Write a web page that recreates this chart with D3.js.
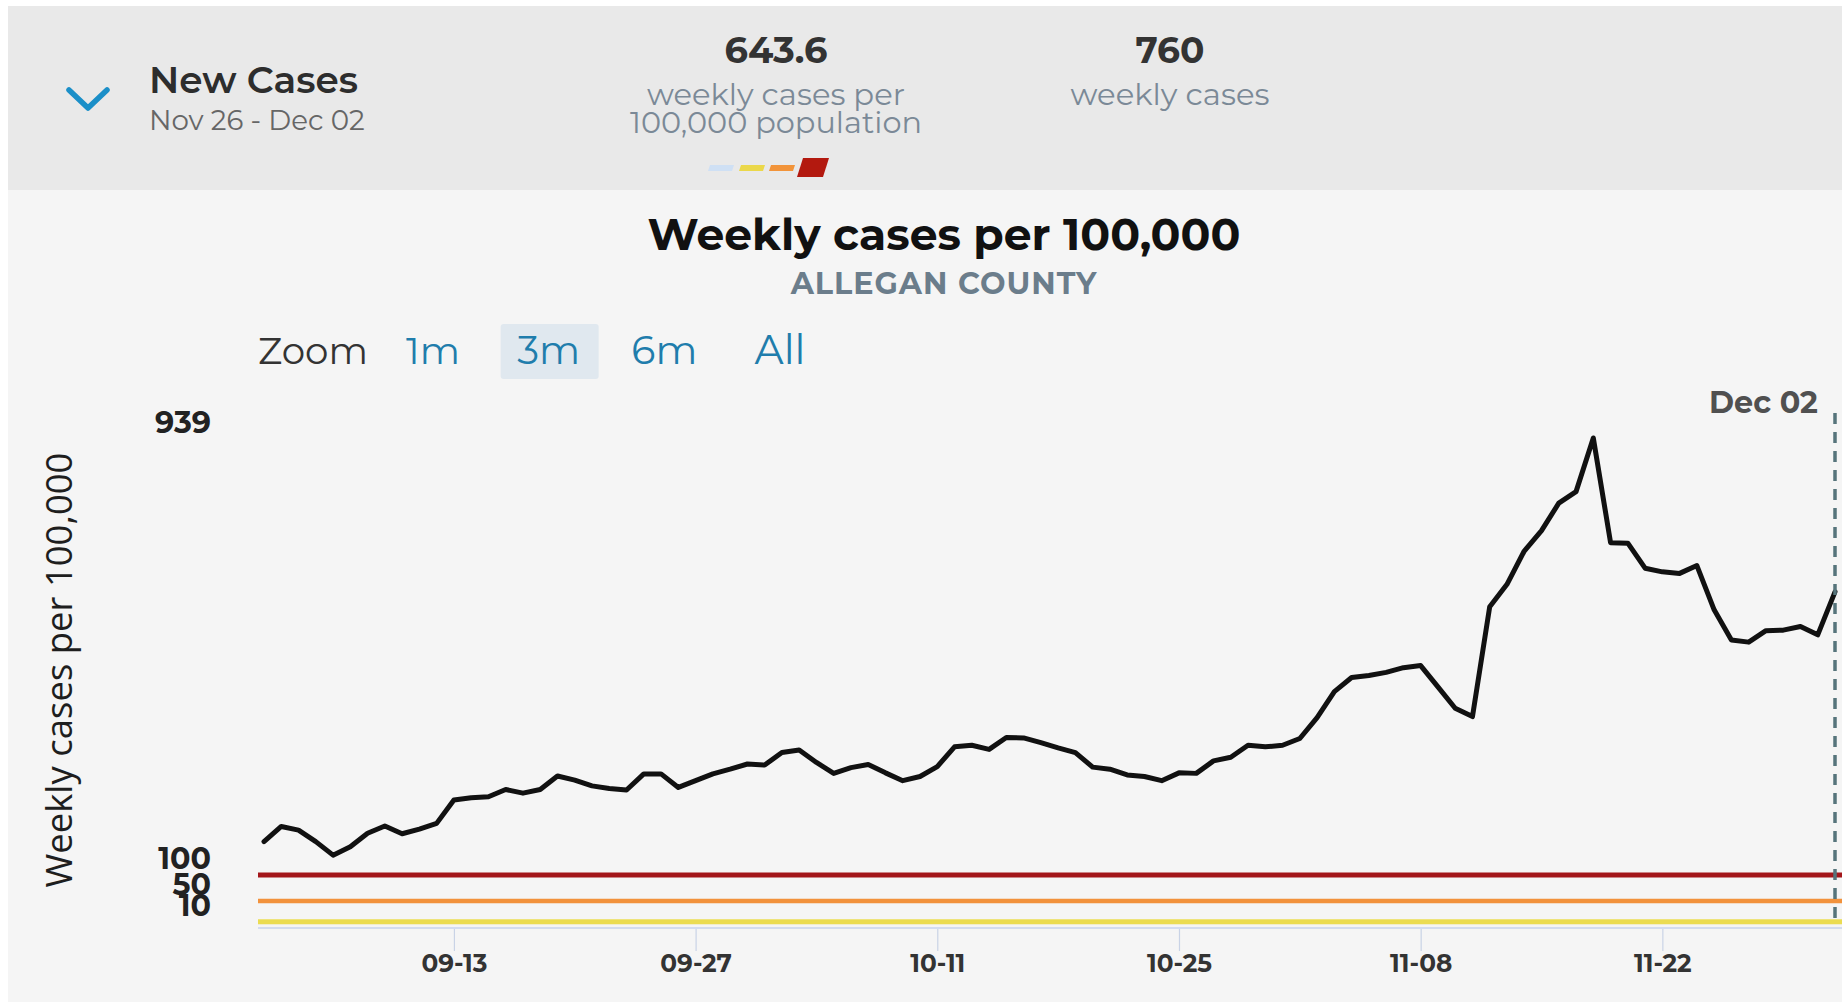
<!DOCTYPE html>
<html><head><meta charset="utf-8">
<script src="https://cdn.jsdelivr.net/npm/d3@7"></script>
<style>html,body{margin:0;padding:0;background:#fff;overflow:hidden}svg{display:block}</style>
</head><body><svg id="chart" width="1842" height="1008"></svg>
<script>
// ---------------- data ----------------
const startDate = "2020-09-02";
const endDate = "2020-12-02";
const weeklyCasesPer100k = [
  164,193,186,164,138,154,180,194,179,188,
  199,244,248,250,264,257,264,290,282,271,
  266,263,294,294,268,281,294,303,313,311,
  335,340,316,295,306,312,296,281,289,308,
  346,349,341,364,363,354,344,335,307,303,
  292,289,281,296,295,319,326,349,346,349,
  362,402,452,479,483,489,498,502,461,420,
  404,615,658,722,761,814,836,939,738,737,
  689,682,679,694,609,551,547,569,570,577,
  561,643.6
];
const thresholdValues = [100, 50, 10];
const yTickValues = [939, 100, 50, 10];
const xTickDates = ["2020-09-13","2020-09-27","2020-10-11","2020-10-25","2020-11-08","2020-11-22"];
const zoomOptions = ["1m","3m","6m","All"];
const selectedZoom = "3m";
const summaryNumbers = ["643.6", "760"];
const summaryLabels = [["weekly cases per","100,000 population"],["weekly cases"]];
const headerTitle = "New Cases";
const headerRange = "Nov 26 - Dec 02";
const chartTitle = "Weekly cases per 100,000";
const chartSubtitle = "ALLEGAN COUNTY";
const yAxisTitle = "Weekly cases per 100,000";
const markerLabel = "Dec 02";

// ---------------- styles ----------------
const FONT = "Montserrat, 'DejaVu Sans', sans-serif";
const thresholdColors = {100:"#a3161a", 50:"#f2923c", 10:"#ebdc52"};
const legendColors = ["#cfe0f4","#ebd84a","#f2943a","#b3190f"];

const svg = d3.select("#chart");
const parse = d3.utcParse("%Y-%m-%d");
const t0 = parse(startDate), t1 = parse(endDate);
const series = weeklyCasesPer100k.map((v,i)=>({date:d3.utcDay.offset(t0,i), value:v}));

function fit(sel, w){
  const n = sel.node();
  const fs = parseFloat(sel.attr("font-size"));
  const l = n.getComputedTextLength();
  const nf = fs*w/l;
  sel.attr("font-size", nf);
  return nf;
}

// backgrounds
svg.append("rect").attr("x",0).attr("y",0).attr("width",1842).attr("height",1008).attr("fill","#ffffff");
svg.append("rect").attr("x",8).attr("y",190).attr("width",1834).attr("height",812).attr("fill","#f5f5f5");
svg.append("rect").attr("x",8).attr("y",6).attr("width",1834).attr("height",184).attr("fill","#e9e9e9");
svg.append("rect").attr("x",118).attr("y",1002).attr("width",1380).attr("height",6).attr("fill","#ffffff");

// ---------------- header ----------------
svg.append("path").attr("d","M69,90 L88,108 L107,90").attr("fill","none")
  .attr("stroke","#1b8fc8").attr("stroke-width",5.5).attr("stroke-linecap","round").attr("stroke-linejoin","round");
const ht = svg.append("text").attr("x",149).attr("y",93).attr("font-family",FONT).attr("font-weight",600)
  .attr("font-size",32).attr("fill","#2d2d2d").text(headerTitle);
fit(ht,209);
const hr = svg.append("text").attr("x",149).attr("y",130).attr("font-family",FONT)
  .attr("font-size",20).attr("fill","#666").text(headerRange);
fit(hr,216);

const statX = d3.scaleOrdinal().domain(summaryNumbers).range([776,1170]);
const numW = {"643.6":103,"760":69};
summaryNumbers.forEach((n,i)=>{
  const cx = statX(n);
  const t = svg.append("text").attr("x",cx).attr("y",63).attr("text-anchor","middle")
    .attr("font-family",FONT).attr("font-weight",700).attr("font-size",28).attr("fill","#333").text(n);
  fit(t,numW[n]);
  summaryLabels[i].forEach((lab,j)=>{
    const s = svg.append("text").attr("x",cx).attr("y",105+j*28).attr("text-anchor","middle")
      .attr("font-family",FONT).attr("font-size",24).attr("fill","#7b8997").text(lab);
    fit(s, lab==="weekly cases per"?258:(lab==="weekly cases"?199:292));
  });
});
// legend swatches
const swX = [708,739,769];
swX.forEach((x,i)=>{
  svg.append("path").attr("d",`M${x+2},165 L${x+26},165 L${x+24},171 L${x},171 Z`).attr("fill",legendColors[i]);
});
svg.append("path").attr("d","M803,158 L829,158 L823,177 L797,177 Z").attr("fill",legendColors[3]);

// ---------------- chart titles ----------------
const title = svg.append("text").attr("x",944).attr("y",250).attr("text-anchor","middle")
  .attr("font-family",FONT).attr("font-weight",700).attr("font-size",34).attr("fill","#111").text(chartTitle);
fit(title,593);
const sub = svg.append("text").attr("x",944).attr("y",294).attr("text-anchor","middle")
  .attr("font-family",FONT).attr("font-weight",700).attr("font-size",20).attr("letter-spacing",1)
  .attr("fill","#6b7d8b").text(chartSubtitle);
fit(sub,314);

// zoom buttons
const zt = svg.append("text").attr("x",258).attr("y",364).attr("font-family",FONT)
  .attr("font-size",28).attr("fill","#333").text("Zoom");
fit(zt,110);
const zx = d3.scalePoint().domain(zoomOptions).range([433,780]);
svg.append("rect").attr("x",zx(selectedZoom)-48).attr("y",324).attr("width",98).attr("height",55)
  .attr("rx",3).attr("fill","#e0e8ef");
const zW = {"1m":54,"3m":63,"6m":66,"All":51};
zoomOptions.forEach(o=>{
  const t = svg.append("text").attr("x",zx(o)).attr("y",364).attr("text-anchor","middle")
    .attr("font-family",FONT).attr("font-size",28).attr("fill","#1f7dac").text(o);
  fit(t,zW[o]);
});

// ---------------- plot ----------------
const x = d3.scaleUtc().domain([t0,t1]).range([264,1835]);
const y = d3.scaleLinear().domain([0,939]).range([927,438]);

// x axis
const xAxis = svg.append("g").attr("transform",`translate(0,${y(0)})`)
  .call(d3.axisBottom(x).tickValues(xTickDates.map(parse)).tickFormat(d3.utcFormat("%m-%d"))
    .tickSize(24).tickPadding(3).tickSizeOuter(0));
xAxis.select(".domain").remove();
xAxis.selectAll(".tick line").attr("stroke","#c9d3e6").attr("stroke-width",1.2);
xAxis.selectAll(".tick text").attr("font-family",FONT).attr("font-weight",700).attr("font-size",18).attr("fill","#333");
{
  const first = xAxis.select(".tick text");
  const fs = fit(first,66);
  xAxis.selectAll(".tick text").attr("font-size",fs);
}
// axis baseline
svg.append("line").attr("x1",258).attr("x2",1842).attr("y1",y(0)+1).attr("y2",y(0)+1)
  .attr("stroke","#d3dcef").attr("stroke-width",2);

// threshold bands
svg.append("g").selectAll("line").data(thresholdValues).join("line")
  .attr("x1",258).attr("x2",1842).attr("y1",d=>y(d)).attr("y2",d=>y(d))
  .attr("stroke",d=>thresholdColors[d]).attr("stroke-width",d=>d===50?4.5:5);

// y axis
const yAxis = svg.append("g").attr("transform","translate(258,0)")
  .call(d3.axisLeft(y).tickValues(yTickValues).tickSize(0).tickPadding(47));
yAxis.select(".domain").remove();
yAxis.selectAll(".tick text").attr("font-family",FONT).attr("font-weight",700).attr("font-size",20)
  .attr("fill","#222").attr("dy","0em").attr("transform","translate(0,-6)");
{
  const t939 = yAxis.selectAll(".tick text").filter(d=>d===939);
  const fs = fit(t939,56);
  yAxis.selectAll(".tick text").attr("font-size",fs);
}
const yl = svg.append("text").attr("transform","translate(72,670) rotate(-90)").attr("text-anchor","middle")
  .attr("font-family","'Open Sans', 'Noto Sans', sans-serif").attr("font-size",30).attr("fill","#1e1e1e").text(yAxisTitle);
fit(yl,435);

// data line
const line = d3.line().x(d=>x(d.date)).y(d=>y(d.value)).curve(d3.curveLinear);
svg.append("path").datum(series).attr("d",line).attr("fill","none").attr("stroke","#111")
  .attr("stroke-width",5).attr("stroke-linejoin","round").attr("stroke-linecap","round");

// current-date marker
svg.append("line").attr("x1",x(t1)).attr("x2",x(t1)).attr("y1",413).attr("y2",y(10))
  .attr("stroke","#56747b").attr("stroke-width",3.5).attr("stroke-dasharray","11,8");
const ml = svg.append("text").attr("x",1818).attr("y",413).attr("text-anchor","end")
  .attr("font-family",FONT).attr("font-weight",700).attr("font-size",20).attr("fill","#505050").text(markerLabel);
fit(ml,109);
</script></body></html>
